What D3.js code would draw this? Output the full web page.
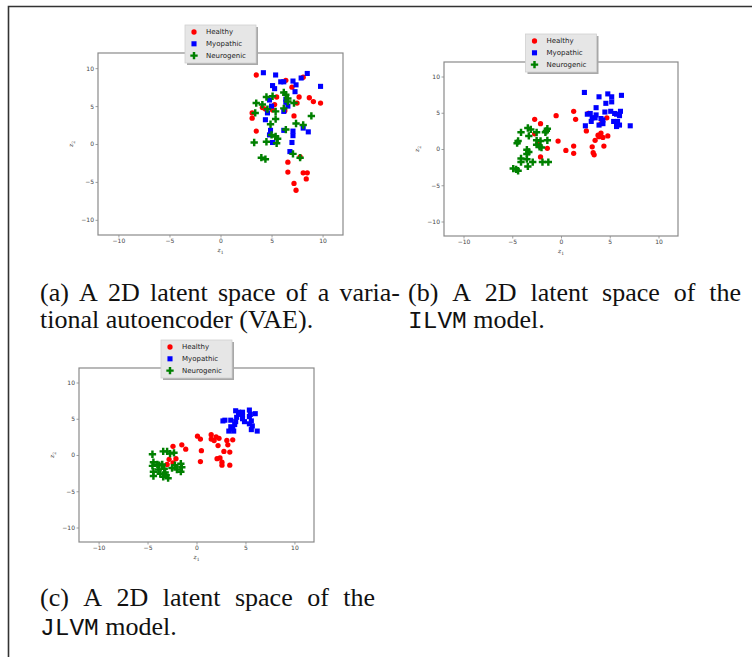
<!DOCTYPE html>
<html lang="en">
<head>
<meta charset="utf-8">
<title>2D latent spaces</title>
<script src="https://cdn.jsdelivr.net/npm/d3@7/dist/d3.min.js"></script>
<style>
  html, body { margin: 0; padding: 0; background: #fff; }
  svg { display: block; }
</style>
</head>
<body>
<script>
// ---- data ----
var classes = ['Healthy', 'Myopathic', 'Neurogenic'];
var tickValues = [-10, -5, 0, 5, 10];
var axisDomain = [-12, 12];

// (a) VAE
var vaeHealthy = [[3.5,9.1],[6.4,8.4],[8.1,8.8],[7.0,7.5],[7.7,6.2],[8.7,6.1],[9.1,5.6],[9.8,5.4],
  [5.5,6.2],[5.3,5.2],[4.1,4.8],[4.4,4.6],[5.1,4.5],[3.1,4.1],[3.1,3.4],[7.5,5.4],[6.3,4.4],
  [7.2,3.7],[3.5,1.7],[6.6,-2.4],[6.6,-3.7],[8.1,-3.8],[8.5,-3.8],[8.4,-4.6],[7.2,-5.2],[7.4,-6.1],[7.8,-1.7]];
var vaeMyopathic = [[4.2,9.4],[5.4,9.1],[8.5,9.3],[9.8,7.6],[7.1,8.3],[5.9,8.2],[6.2,8.2],[7.9,8.7],
  [5.1,7.7],[5.3,7.3],[7.4,7.8],[7.3,6.9],[4.8,5.8],[6.4,5.5],[6.6,5.0],[4.6,4.1],[6.2,4.3],
  [4.4,3.2],[6.2,1.8],[7.1,1.7],[7.1,1.1],[8.1,2.1],[8.6,1.6],[4.9,1.8],[4.8,1.2],[5.1,0.2],
  [7.0,0.2],[6.8,-1.0],[6.4,5.9],[5.0,5.0]];
var vaeNeurogenic = [[3.5,5.4],[4.1,5.2],[4.5,6.2],[5.1,6.3],[6.2,6.8],[6.4,6.5],[6.6,6.0],[7.2,5.4],
  [4.6,4.6],[5.4,4.3],[6.2,4.7],[3.4,4.1],[5.4,3.3],[4.9,2.6],[7.4,2.7],[8.1,2.5],[8.9,3.7],
  [6.4,1.9],[5.0,1.2],[5.4,1.0],[5.6,0.7],[5.5,0.1],[4.5,0.3],[3.3,0.2],[7.1,-1.3],[4.0,-1.8],
  [4.4,-2.0],[7.8,-1.8],[6.6,5.6]];

// (b) ILVM
var ilvmHealthy = [[-2.7,4.1],[-2.1,3.5],[-0.5,4.6],[1.3,5.2],[1.5,4.1],[-2.7,2.1],[-2.4,0.7],
  [-2.1,-1.1],[-1.4,0.1],[-0.3,1.1],[0.5,-0.2],[1.3,0.4],[1.3,-0.6],[2.6,2.5],[2.8,4.9],[4.7,4.3],
  [4.1,3.5],[4.1,2.2],[3.9,1.7],[4.3,1.6],[3.8,1.9],[3.5,1.2],[4.8,1.8],[3.2,0.3],[3.3,-0.5],
  [3.4,-0.8],[4.4,0.4]];
var ilvmMyopathic = [[2.4,7.8],[3.9,7.2],[4.8,7.6],[5.2,7.2],[6.2,7.4],[5.2,6.5],[4.6,6.3],[3.6,5.7],
  [2.7,4.8],[3.2,4.3],[3.6,4.7],[4.5,5.1],[5.1,5.2],[5.5,4.9],[6.1,5.2],[6.0,4.6],[5.7,4.8],
  [3.1,3.8],[3.5,4.3],[4.1,4.2],[4.3,4.0],[3.9,3.3],[4.3,3.5],[5.4,3.8],[5.8,3.8],[6.0,3.3],
  [5.7,3.1],[2.5,3.2],[7.1,3.2],[3.0,4.9]];
var ilvmNeurogenic = [[-4.1,2.3],[-3.4,2.9],[-3.1,2.7],[-2.5,2.3],[-1.5,2.5],[-1.4,2.8],[-1.6,2.3],
  [-3.3,1.8],[-4.4,1.1],[-4.5,0.8],[-2.5,1.2],[-2.1,1.1],[-1.4,1.2],[-2.5,0.6],[-2.2,0.3],
  [-2.0,0.2],[-3.5,-0.1],[-3.3,-0.4],[-3.5,-0.7],[-4.1,-1.3],[-4.1,-1.8],[-3.5,-1.4],[-2.9,-1.8],
  [-1.9,-1.8],[-1.3,-1.8],[-4.9,-2.7],[-4.6,-2.8],[-4.4,-3.0],[-3.4,-2.4]];

// (c) JLVM
var jlvmHealthy = [[0.1,2.6],[0.4,2.2],[0.5,0.6],[0.4,-0.9],[1.5,2.8],[2.0,2.5],[1.5,2.2],[1.8,2.0],
  [2.2,1.3],[2.3,2.3],[3.1,2.0],[3.2,1.4],[3.7,2.1],[2.8,0.5],[3.4,0.4],[2.1,-0.5],[2.4,-0.4],
  [2.6,-1.0],[2.6,-1.4],[3.4,-1.4],[-2.4,1.2],[-1.5,1.4],[-1.1,0.8],[-2.1,-0.5],[-2.8,-0.6],
  [-3.0,-1.3],[-2.4,-1.1]];
var jlvmMyopathic = [[2.7,4.7],[2.9,4.8],[4.0,6.1],[4.3,5.9],[4.7,5.9],[5.4,6.2],[6.0,5.7],[4.3,5.6],
  [4.1,5.2],[4.7,5.0],[5.4,5.3],[3.5,4.8],[4.0,4.6],[3.9,4.2],[3.5,3.9],[3.3,3.3],[3.8,3.3],
  [5.6,4.7],[5.4,4.3],[5.7,4.0],[5.6,3.5],[6.2,3.3],[4.7,5.5],[4.9,4.6],[5.5,5.6],[3.7,3.6]];
var jlvmNeurogenic = [[-4.5,0.1],[-3.4,0.5],[-3.0,0.5],[-2.7,0.2],[-2.3,0.3],[-4.4,-1.0],[-4.0,-1.3],
  [-4.5,-1.5],[-3.8,-1.4],[-3.5,-1.3],[-4.4,-2.3],[-3.9,-2.0],[-3.3,-1.9],[-3.2,-2.4],[-4.4,-2.9],
  [-3.4,-3.0],[-2.9,-3.2],[-3.1,-2.8],[-2.2,-1.4],[-2.0,-2.0],[-1.6,-2.3],[-1.5,-1.7],[-1.6,-1.2],
  [-2.5,-1.8],[-3.7,-2.6]];

// captions: [first line, second line code word, rest of second line]
var captionA = ['(a) A 2D latent space of a varia-', 'tional autoencoder (VAE).'];
var captionB = ['(b) A 2D latent space of the', 'ILVM', ' model.'];
var captionC = ['(c) A 2D latent space of the', 'JLVM', ' model.'];

// ---- styling / layout ----
var W = 752, H = 657;
var colors = {Healthy: '#ff0000', Myopathic: '#0000ff', Neurogenic: '#008000'};
var shapes = {Healthy: d3.symbolCircle, Myopathic: d3.symbolSquare, Neurogenic: d3.symbolCross};
var sizes = {Healthy: 22, Myopathic: 26, Neurogenic: 30};

var svg = d3.select('body').append('svg')
    .attr('width', W).attr('height', H)
    .attr('viewBox', '0 0 ' + W + ' ' + H);

// page frame (open on right and bottom, cut by the crop)
svg.append('path')
    .attr('d', 'M8.5,657 L8.5,6.5 L752,6.5')
    .attr('fill', 'none').attr('stroke', '#333').attr('stroke-width', 1.6);

function panel(box, data) {
    var x = d3.scaleLinear().domain(axisDomain).range([box.x0, box.x1]);
    var y = d3.scaleLinear().domain(axisDomain).range([box.y1, box.y0]);
    var g = svg.append('g');

    var xAxis = g.append('g')
        .attr('transform', 'translate(0,' + box.y1 + ')')
        .call(d3.axisBottom(x).tickValues(tickValues).tickSize(2.5).tickPadding(1.5));
    var yAxis = g.append('g')
        .attr('transform', 'translate(' + box.x0 + ',0)')
        .call(d3.axisLeft(y).tickValues(tickValues).tickSize(2.5).tickPadding(1.5));
    [xAxis, yAxis].forEach(function (a) {
        a.select('.domain').remove();
        a.selectAll('line').attr('stroke', '#777').attr('stroke-width', 0.7);
        a.selectAll('text').attr('fill', '#444').style('font-family', 'DejaVu Sans')
            .style('font-size', '6px');
    });

    g.append('rect')
        .attr('x', box.x0).attr('y', box.y0)
        .attr('width', box.x1 - box.x0).attr('height', box.y1 - box.y0)
        .attr('fill', 'none').attr('stroke', '#8a8a8a').attr('stroke-width', 1.2);

    // axis labels z1, z2
    var xl = g.append('text')
        .attr('x', (box.x0 + box.x1) / 2).attr('y', box.y1 + 17)
        .attr('text-anchor', 'middle').attr('fill', '#444')
        .style('font-family', 'DejaVu Serif').style('font-size', '6px');
    xl.append('tspan').style('font-style', 'italic').text('z');
    xl.append('tspan').attr('dy', 1.5).style('font-size', '4.5px').text('1');
    var yl = g.append('text')
        .attr('transform', 'translate(' + (box.x0 - 25) + ',' + ((box.y0 + box.y1) / 2) + ') rotate(-90)')
        .attr('text-anchor', 'middle').attr('fill', '#444')
        .style('font-family', 'DejaVu Serif').style('font-size', '6px');
    yl.append('tspan').style('font-style', 'italic').text('z');
    yl.append('tspan').attr('dy', 1.5).style('font-size', '4.5px').text('2');

    classes.forEach(function (c) {
        g.append('g').selectAll('path')
            .data(data[c])
            .join('path')
            .attr('transform', function (d) { return 'translate(' + x(d[0]) + ',' + y(d[1]) + ')'; })
            .attr('d', d3.symbol().type(shapes[c]).size(sizes[c]))
            .attr('fill', colors[c]);
    });

    // legend, upper centre, overlapping the top spine, with shadow
    var lw = 71, lh = 38;
    var lx = (box.x0 + box.x1) / 2 - lw / 2, ly = box.y0 - 28;
    var lg = g.append('g').attr('transform', 'translate(' + lx + ',' + ly + ')');
    lg.append('rect').attr('x', 2).attr('y', 2).attr('width', lw).attr('height', lh)
        .attr('fill', '#a8a8a8');
    lg.append('rect').attr('width', lw).attr('height', lh)
        .attr('fill', '#e6e6e6').attr('stroke', '#d0d0d0').attr('stroke-width', 0.8);
    classes.forEach(function (c, i) {
        var ry = 7 + i * 11.8;
        lg.append('path')
            .attr('transform', 'translate(9,' + ry + ')')
            .attr('d', d3.symbol().type(shapes[c]).size(sizes[c]))
            .attr('fill', colors[c]);
        lg.append('text')
            .attr('x', 21).attr('y', ry).attr('dy', '0.35em')
            .attr('fill', '#222')
            .style('font-family', 'DejaVu Sans').style('font-size', '7px')
            .text(c);
    });
}

panel({x0: 98, y0: 53, x1: 343, y1: 235},
      {Healthy: vaeHealthy, Myopathic: vaeMyopathic, Neurogenic: vaeNeurogenic});
panel({x0: 444, y0: 62, x1: 678, y1: 236},
      {Healthy: ilvmHealthy, Myopathic: ilvmMyopathic, Neurogenic: ilvmNeurogenic});
panel({x0: 79, y0: 368, x1: 314, y1: 542},
      {Healthy: jlvmHealthy, Myopathic: jlvmMyopathic, Neurogenic: jlvmNeurogenic});

// ---- captions ----
var serif = 'Liberation Serif', mono = 'Liberation Mono', capSize = 26;

// justified line: spread words so the line fills [x, x + width]
function justified(text, x, y, width) {
    var words = text.split(' ');
    var t = svg.append('text').attr('y', y).attr('fill', '#111')
        .style('font-family', serif).style('font-size', capSize + 'px');
    var spans = words.map(function (w) { return t.append('tspan').text(w); });
    var widths = spans.map(function (s) { return s.node().getComputedTextLength(); });
    var gap = (width - d3.sum(widths)) / (words.length - 1);
    var cx = x;
    spans.forEach(function (s, i) {
        s.attr('x', cx);
        cx += widths[i] + gap;
    });
}

function plain(x, y, code, rest) {
    var t = svg.append('text').attr('x', x).attr('y', y).attr('fill', '#111')
        .style('font-family', serif).style('font-size', capSize + 'px');
    if (rest === undefined) {
        t.text(code);
        return;
    }
    t.append('tspan').style('font-family', mono).style('font-size', (capSize - 1.5) + 'px').text(code);
    t.append('tspan').style('white-space', 'pre').text(rest);
}

justified(captionA[0], 40, 301, 360);
plain(40, 328, captionA[1]);
justified(captionB[0], 408, 301, 333);
plain(408, 328, captionB[1], captionB[2]);
justified(captionC[0], 40, 606, 335);
plain(40, 635, captionC[1], captionC[2]);
</script>
</body>
</html>
